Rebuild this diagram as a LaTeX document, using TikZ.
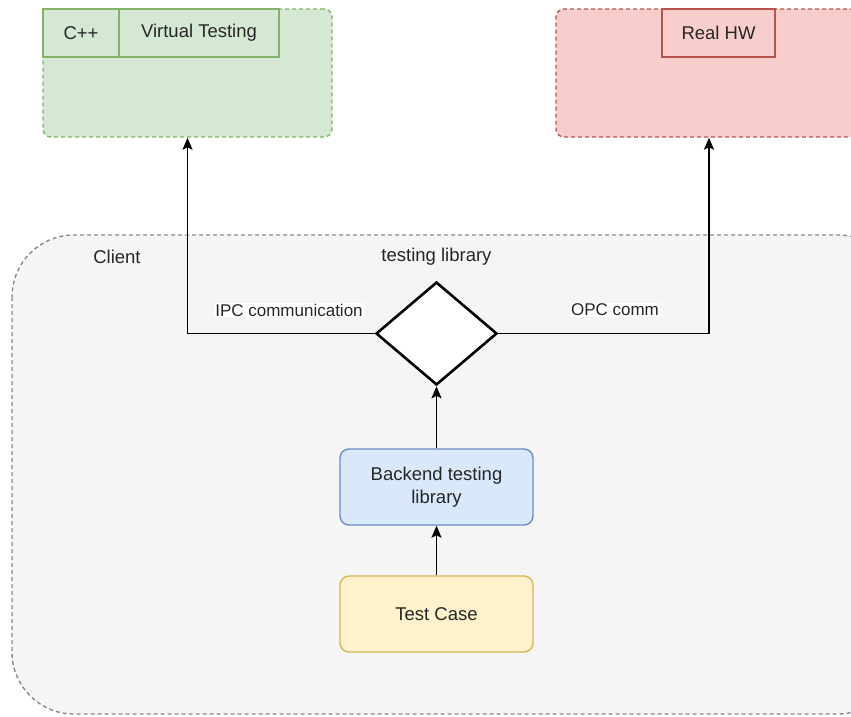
\documentclass[tikz,border=0pt]{standalone}
\usepackage{fontspec}
\setmainfont{Liberation Sans}
\usetikzlibrary{shapes.geometric,arrows.meta}
\definecolor{simfill}{HTML}{D5E8D4}
\definecolor{simdraw}{HTML}{82B366}
\definecolor{hwfill}{HTML}{F8CECC}
\definecolor{hwdraw}{HTML}{B85450}
\definecolor{backfill}{HTML}{DAE8FC}
\definecolor{backdraw}{HTML}{6C8EBF}
\definecolor{casefill}{HTML}{FFF2CC}
\definecolor{casedraw}{HTML}{D6B656}
\definecolor{clientfill}{HTML}{F5F5F5}
\definecolor{clientdraw}{HTML}{8A8A8A}
\begin{document}
\begin{tikzpicture}[x=1pt,y=-1pt,inner sep=1mm,text=black!85,
		font=\fontsize{18.5}{23}\selectfont,
		container/.style={rectangle,draw,line width=1.4pt,dash pattern=on 4pt off 3pt,rounded corners=8pt,minimum height=128pt},
		cell/.style={rectangle,draw,line width=1.4pt,minimum height=48pt},
		box/.style={rectangle,draw,line width=1.4pt,rounded corners=9pt,minimum width=193pt,minimum height=76pt,align=center},
		lbl/.style={fill=white,inner sep=1pt,font=\fontsize{17}{20}\selectfont},
		link/.style={-{Stealth[length=12pt,width=10pt,inset=2.5pt]},line width=1.7pt}]
		\clip (0,0) rectangle (851,716);
		% client area
		\draw [draw=clientdraw,fill=clientfill,line width=1.4pt,dash pattern=on 4pt off 3pt,rounded corners=62pt] (12,235) rectangle (900,714);
		\node [] (client) at (117,257) {Client};
		\node [] (lib) at (436.5,257) {testing library};
		% targets
		\node [container,fill=simfill,draw=simdraw,minimum width=289pt] (sim) at (187.5,73) {};
		\node [cell,fill=simfill,draw=simdraw,minimum width=76pt] (cpp) at (81,33) {C++};
		\node [cell,fill=simfill,draw=simdraw,minimum width=160pt] (virt) at (199,33) {Virtual Testing};
		\node [container,fill=hwfill,draw=hwdraw,minimum width=306pt] (hw) at (709,73) {};
		\node [cell,fill=hwfill,draw=hwdraw,minimum width=113pt] (real) at (718.5,33) {Real HW};
		% client parts
		\node [diamond,draw,fill=white,line width=2.6pt,inner sep=0pt,aspect=1.17,minimum width=121pt,minimum height=103pt] (dia) at (436.5,333.5) {};
		\node [box,fill=backfill,draw=backdraw] (back) at (436.5,487) {Backend testing\\library};
		\node [box,fill=casefill,draw=casedraw] (case) at (436.5,614) {Test Case};
		% connectors
		\draw [link] (dia.west) -| (sim.south);
		\draw [link] (dia.east) -| (hw.south);
		\draw [link] (back) -- (dia.south);
		\draw [link] (case) -- (back);
		\node [lbl] (ipc) at (289,310) {IPC communication};
		\node [lbl] (opc) at (615,310) {OPC comm};
	\end{tikzpicture}
\end{document}
